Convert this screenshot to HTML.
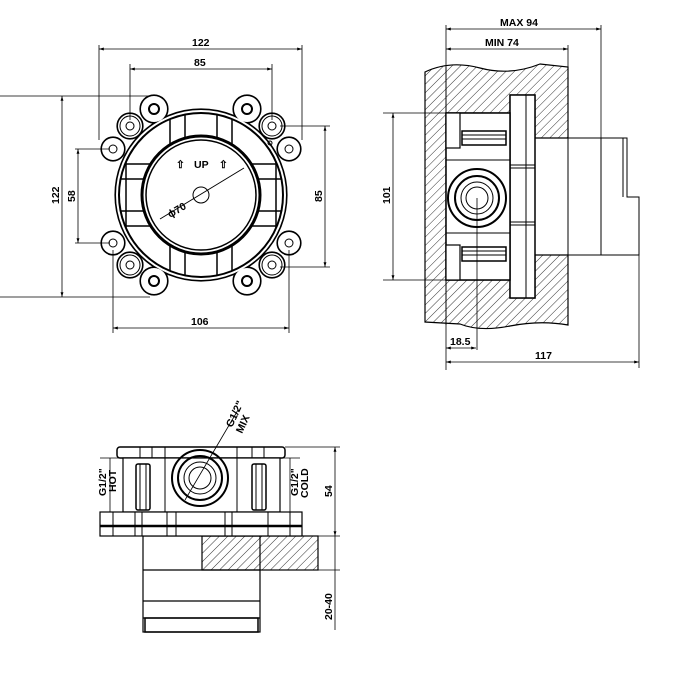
<!DOCTYPE html>
<html><head><style>html,body{margin:0;padding:0;background:#fff}svg{display:block}text{font-family:"Liberation Sans",sans-serif;font-size:10.5px;fill:#000;font-weight:bold}</style></head>
<body>
<svg width="700" height="700" viewBox="0 0 700 700" xmlns="http://www.w3.org/2000/svg">
<defs>
<pattern id="h" width="6" height="6" patternUnits="userSpaceOnUse" patternTransform="rotate(45)"><line x1="0" y1="0" x2="0" y2="6" stroke="#000" stroke-width="0.8"/></pattern>
<marker id="a" viewBox="0 0 10 10" refX="10" refY="5" markerWidth="6" markerHeight="6" orient="auto-start-reverse"><path d="M0,2 L10,5 L0,8z" fill="#000"/></marker>
<clipPath id="ring"><circle cx="201" cy="195" r="82"/></clipPath>
</defs>
<g fill="none" stroke="#000" stroke-width="1">
<!-- ===== VIEW 1 ===== -->
<g stroke-width="3.2">
<circle cx="201" cy="195" r="85"/>
<circle cx="154" cy="109" r="13"/><circle cx="247" cy="109" r="13"/><circle cx="154" cy="281" r="13"/><circle cx="247" cy="281" r="13"/>
<circle cx="130" cy="126" r="12"/><circle cx="272" cy="126" r="12"/><circle cx="130" cy="265" r="12"/><circle cx="272" cy="265" r="12"/>
<circle cx="113" cy="149" r="11"/><circle cx="289" cy="149" r="11"/><circle cx="113" cy="243" r="11"/><circle cx="289" cy="243" r="11"/>
</g>
<g fill="#fff" stroke="none">
<circle cx="201" cy="195" r="85"/>
<circle cx="154" cy="109" r="13"/><circle cx="247" cy="109" r="13"/><circle cx="154" cy="281" r="13"/><circle cx="247" cy="281" r="13"/>
<circle cx="130" cy="126" r="12"/><circle cx="272" cy="126" r="12"/><circle cx="130" cy="265" r="12"/><circle cx="272" cy="265" r="12"/>
<circle cx="113" cy="149" r="11"/><circle cx="289" cy="149" r="11"/><circle cx="113" cy="243" r="11"/><circle cx="289" cy="243" r="11"/>
</g>
<circle cx="201" cy="195" r="82" stroke-width="2"/>
<g clip-path="url(#ring)" stroke-width="1.5">
<path d="M185 100V290M217 100V290M170 100V290M232 100V290M106 179H296M106 211H296M106 164H296M106 226H296M126 100V290M276 100V290"/>
</g>
<circle cx="201" cy="195" r="59" fill="#fff" stroke-width="3"/>
<circle cx="201" cy="195" r="55" stroke-width="1.5"/>
<g stroke-width="1">
<circle cx="154" cy="109" r="5" stroke-width="2"/><circle cx="247" cy="109" r="5" stroke-width="2"/><circle cx="154" cy="281" r="5" stroke-width="2"/><circle cx="247" cy="281" r="5" stroke-width="2"/>
<circle cx="130" cy="126" r="4"/><circle cx="272" cy="126" r="4"/><circle cx="130" cy="265" r="4"/><circle cx="272" cy="265" r="4"/>
<circle cx="130" cy="126" r="10"/><circle cx="272" cy="126" r="10"/><circle cx="130" cy="265" r="10"/><circle cx="272" cy="265" r="10"/>
<circle cx="113" cy="149" r="4"/><circle cx="289" cy="149" r="4"/><circle cx="113" cy="243" r="4"/><circle cx="289" cy="243" r="4"/>
<circle cx="270" cy="143" r="2"/>
<circle cx="201" cy="195" r="8"/>
<line x1="160" y1="219" x2="244" y2="168"/>
</g>
<text x="194" y="168" font-size="13" stroke="none" fill="#000">UP</text>
<text x="176" y="168" font-size="12" stroke="none">⇧</text><text x="219" y="168" font-size="12" stroke="none">⇧</text>
<text x="0" y="0" transform="translate(170,218) rotate(-30)" stroke="none">ϕ70</text>
<!-- dims view1 -->
<g stroke-width="0.8">
<path d="M99 45V140M302 45V140M130 64V120M272 64V120M0 96H150M0 297H150M75 149H110M75 243H110M280 126H330M280 267H330M113 250V333M289 250V333"/>
<line x1="99" y1="49" x2="302" y2="49" marker-start="url(#a)" marker-end="url(#a)"/>
<line x1="130" y1="69" x2="272" y2="69" marker-start="url(#a)" marker-end="url(#a)"/>
<line x1="62" y1="96" x2="62" y2="297" marker-start="url(#a)" marker-end="url(#a)"/>
<line x1="78" y1="149" x2="78" y2="243" marker-start="url(#a)" marker-end="url(#a)"/>
<line x1="325" y1="126" x2="325" y2="267" marker-start="url(#a)" marker-end="url(#a)"/>
<line x1="113" y1="328" x2="289" y2="328" marker-start="url(#a)" marker-end="url(#a)"/>
</g>
<g stroke="none">
<text x="192" y="46">122</text><text x="194" y="66">85</text><text x="191" y="325">106</text>
<text transform="translate(59,204) rotate(-90)">122</text>
<text transform="translate(75,202) rotate(-90)">58</text>
<text transform="translate(322,202) rotate(-90)">85</text>
</g>
<!-- ===== VIEW 2 ===== -->
<path d="M425 72 Q450 60 480 68 T540 64 L568 67 V138 H535 V95 H510 V113 H446 V280 H510 V298 H535 V255 H568 V325 Q540 320 510 326 T460 324 L425 322 Z" fill="url(#h)" stroke="#000" stroke-width="1.2"/>
<path d="M446 67V325" stroke-width="1"/>
<rect x="510" y="95" width="25" height="203" fill="#fff" stroke-width="1.5"/>
<path d="M526 95V298M510 165H535M510 168H535M510 222H535M510 225H535"/>
<rect x="446" y="113" width="64" height="167" fill="#fff" stroke-width="1.5"/>
<path d="M446 160H510M446 233H510"/>
<rect x="446" y="113" width="14" height="35" fill="#fff" stroke-width="1.2"/>
<rect x="446" y="245" width="14" height="35" fill="#fff" stroke-width="1.2"/>
<rect x="462" y="131" width="44" height="14" stroke-width="1.5"/><path d="M462 135H506M462 139H506"/>
<rect x="462" y="247" width="44" height="14" stroke-width="1.5"/><path d="M462 251H506M462 255H506"/>
<circle cx="477" cy="198" r="29" stroke-width="2"/>
<circle cx="477" cy="198" r="22" stroke-width="2"/>
<circle cx="477" cy="198" r="16"/><circle cx="477" cy="198" r="11"/>
<path d="M535 138H627V197H639V255H535M568 138V255M601 138V255M623 138V197"/>
<g stroke-width="0.8">
<path d="M446 25V370M601 25V138M568 45V138M639 255V368M383 113H446M383 280H446M477 198V350"/>
<line x1="446" y1="29" x2="601" y2="29" marker-start="url(#a)" marker-end="url(#a)"/>
<line x1="446" y1="49" x2="568" y2="49" marker-start="url(#a)" marker-end="url(#a)"/>
<line x1="393" y1="113" x2="393" y2="280" marker-start="url(#a)" marker-end="url(#a)"/>
<line x1="446" y1="348" x2="476" y2="348" marker-start="url(#a)" marker-end="url(#a)"/>
<line x1="446" y1="362" x2="639" y2="362" marker-start="url(#a)" marker-end="url(#a)"/>
</g>
<g stroke="none">
<text x="500" y="26">MAX  94</text>
<text x="485" y="46">MIN  74</text>
<text transform="translate(390,204) rotate(-90)">101</text>
<text x="450" y="345" font-size="9.5">18.5</text>
<text x="535" y="359" font-size="9.5">117</text>
</g>
<!-- ===== VIEW 3 ===== -->
<rect x="117" y="447" width="168" height="11" rx="3" fill="#fff" stroke-width="1.5"/>
<path d="M140 447V458M152 447V458M252 447V458M264 447V458"/>
<rect x="123" y="458" width="157" height="54" fill="#fff" stroke-width="1.2"/>
<path d="M165 447V512M237 447V512"/>
<rect x="136" y="464" width="14" height="46" rx="2" stroke-width="1.5"/><path d="M140 464V510M146 464V510"/>
<rect x="252" y="464" width="14" height="46" rx="2" stroke-width="1.5"/><path d="M256 464V510M262 464V510"/>
<circle cx="200" cy="478" r="28" stroke-width="2"/><circle cx="200" cy="478" r="22" stroke-width="2"/>
<circle cx="200" cy="478" r="16"/><circle cx="200" cy="478" r="11"/>
<rect x="143" y="536" width="117" height="96" fill="#fff" stroke-width="1.2"/>
<path d="M143 570H260M143 601H260M143 618H260" stroke-width="1.2"/>
<rect x="145" y="618" width="113" height="14" stroke-width="1.5"/>
<rect x="202" y="536" width="116" height="34" fill="url(#h)" stroke-width="1.2"/>
<path d="M260 536V570"/>
<rect x="100" y="512" width="202" height="24" fill="#fff" stroke-width="1.2"/>
<path d="M100 526H302" stroke-width="2.5"/>
<path d="M113 512V536M135 512V536M142 512V536M167 512V536M176 512V536M225 512V536M232 512V536M268 512V536M290 512V536"/>
<g stroke-width="0.8">
<path d="M185 500L238 410M110 458V512M128 458H100M290 458V512M270 458H300M285 447H340M302 536H340M318 570H340"/>
<line x1="335" y1="447" x2="335" y2="536" marker-start="url(#a)" marker-end="url(#a)"/>
<path d="M335 536V630"/>
</g>
<g stroke="none">
<text transform="translate(232,428) rotate(-65)" font-size="9.5">G1/2"</text>
<text transform="translate(242,434) rotate(-65)" font-size="9.5">MIX</text>
<text transform="translate(106,496) rotate(-90)" font-size="9.5">G1/2"</text>
<text transform="translate(116,492) rotate(-90)" font-size="9.5">HOT</text>
<text transform="translate(298,496) rotate(-90)" font-size="9.5">G1/2"</text>
<text transform="translate(308,498) rotate(-90)" font-size="9.5">COLD</text>
<text transform="translate(332,497) rotate(-90)">54</text>
<text transform="translate(332,620) rotate(-90)">20-40</text>
</g>
</g>
</svg>
</body></html>
